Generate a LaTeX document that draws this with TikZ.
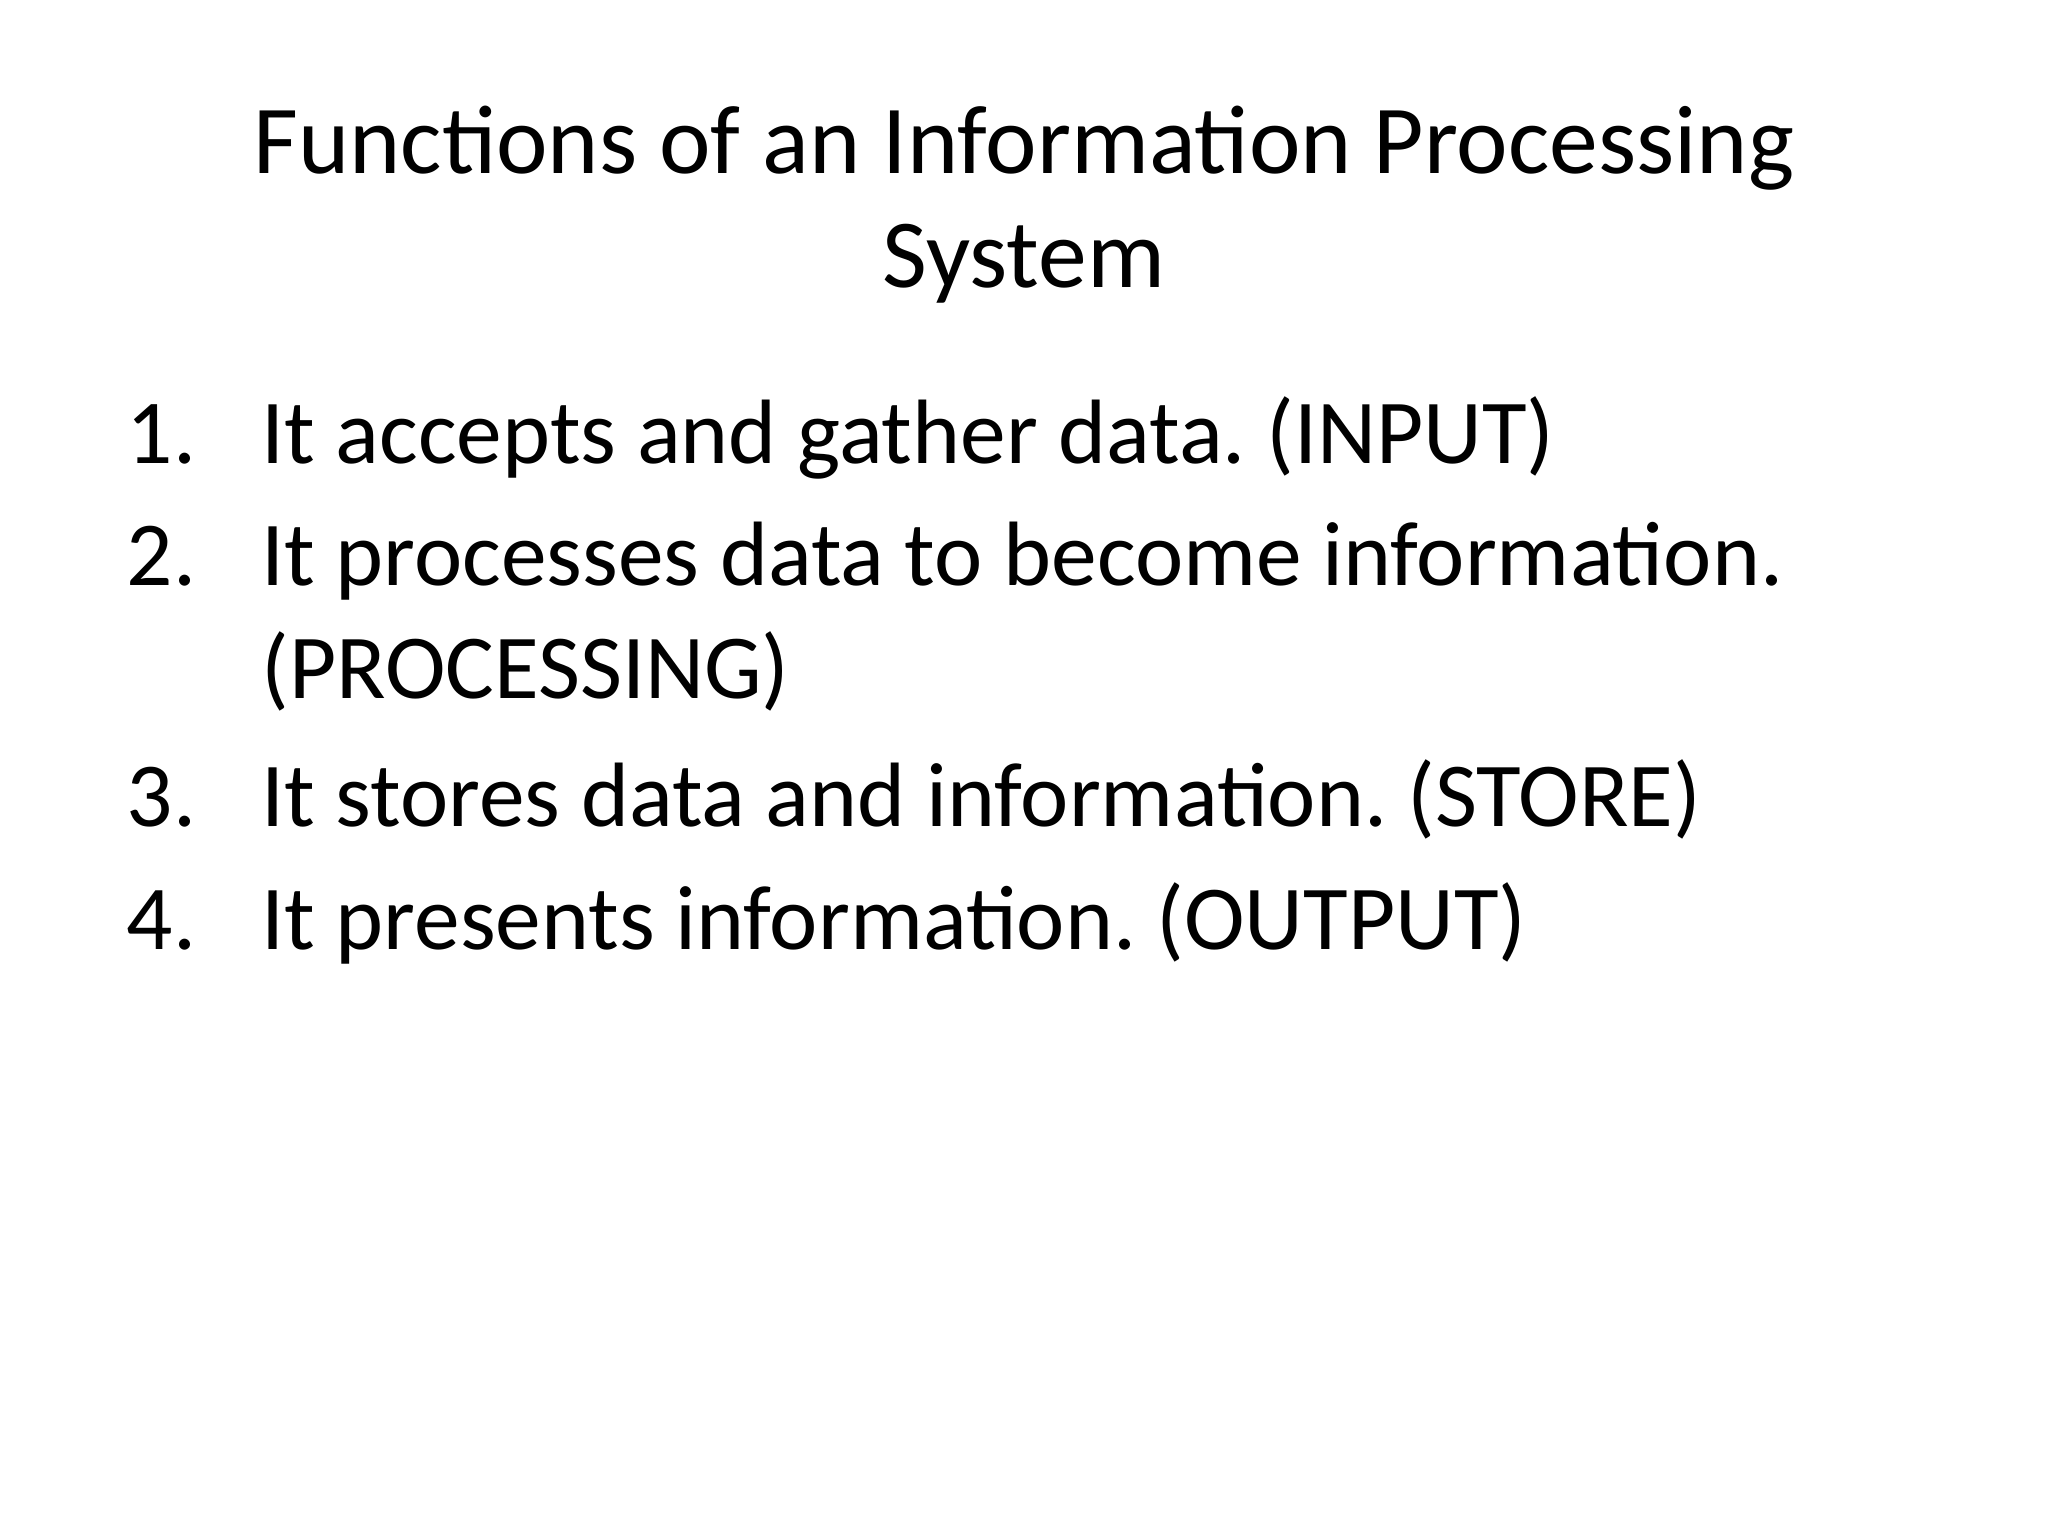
\documentclass[tikz,border=0pt]{standalone}
\usepackage{fontspec}
\setmainfont{Carlito}
\begin{document}
\frenchspacing
\begin{tikzpicture}[x=1pt,y=-1pt,
  txt/.style={font=\fontsize{70}{87}\selectfont\frenchspacing, inner sep=0pt, anchor=base west}]
\useasboundingbox[fill=white] (0,0) rectangle (1568,1176);
\node[font=\fontsize{74.7}{87}\selectfont, inner sep=0pt, anchor=base] (t1) at (784,133) {Functions of an Information Processing};
\node[font=\fontsize{74.7}{87}\selectfont, inner sep=0pt, anchor=base] (t2) at (784,220) {System};
\node[txt] (n1) at (97,355) {1.};
\node[txt] (i1) at (200,355) {It accepts and gather data. (INPUT)};
\node[txt] (n2) at (97,448) {2.};
\node[txt] (i2) at (200,448) {It processes data to become information.};
\node[txt] (i2b) at (200,535) {(PROCESSING)};
\node[txt] (n3) at (97,633) {3.};
\node[txt] (i3) at (200,633) {It stores data and information. (STORE)};
\node[txt] (n4) at (97,727) {4.};
\node[txt] (i4) at (200,727) {It presents information. (OUTPUT)};
\end{tikzpicture}
\end{document}
